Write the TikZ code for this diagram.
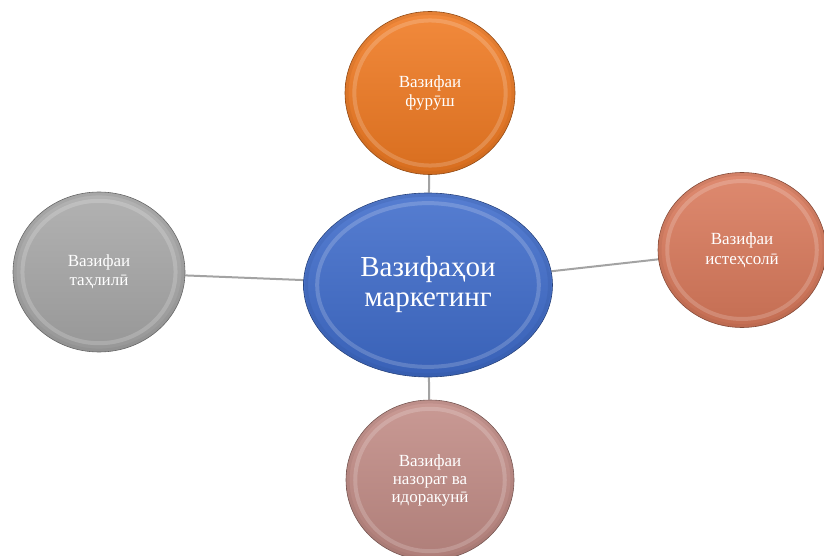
\documentclass[tikz,border=0pt]{standalone}
\usepackage{fontspec}
\setmainfont{Liberation Serif}
\usetikzlibrary{shapes.geometric,backgrounds}
\definecolor{cblue}{HTML}{3F6CCB}
\definecolor{corange}{HTML}{F07A22}
\definecolor{csalmon}{HTML}{DA7A5C}
\definecolor{cgray}{HTML}{A8A8A8}
\definecolor{crose}{HTML}{C28C86}
\definecolor{cline}{HTML}{A3A3A3}
\tikzset{
  bubble/.style n args={4}{ellipse, minimum width=#2pt, minimum height=#3pt,
    inner sep=0pt, align=center, text=white,
    top color=#1!88!white, bottom color=#1!90!black,
    draw=#1!60!black, line width=0.6pt,
    path picture={
      \draw[white, opacity=0.18, line width=4pt]
        (path picture bounding box.center) ellipse [x radius=#2*0.445pt, y radius=#3*0.445pt];
      \draw[#1!75!black, opacity=0.2, line width=3pt]
        (path picture bounding box.center) ellipse [x radius=#2*0.488pt, y radius=#3*0.488pt];
    },
    font=#4},
  link/.style={draw=cline, line width=2pt}
}
\begin{document}
\begin{tikzpicture}[x=1pt,y=-1pt]
\useasboundingbox (0,0) rectangle (824,556);
\node[bubble={cblue}{249}{184}{\fontsize{29}{30}\selectfont}] (c) at (428,285) {Вазифаҳои\\маркетинг};
\node[bubble={corange}{170}{163}{\fontsize{17}{19}\selectfont}] (t) at (430,93) {Вазифаи\\фурӯш};
\node[bubble={csalmon}{168}{155}{\fontsize{17}{20}\selectfont}] (r) at (742,250) {Вазифаи\\истеҳсолӣ};
\node[bubble={cgray}{172}{160}{\fontsize{17}{19}\selectfont}] (l) at (99,272) {Вазифаи\\таҳлилӣ};
\node[bubble={crose}{168}{160}{\fontsize{17}{18}\selectfont}] (b) at (430,480) {Вазифаи\\назорат ва\\идоракунӣ};
\begin{scope}[on background layer]
\draw[link] (c) -- (t);
\draw[link] (c) -- (r);
\draw[link] (c) -- (l);
\draw[link] (c) -- (b);
\end{scope}
\end{tikzpicture}
\end{document}
